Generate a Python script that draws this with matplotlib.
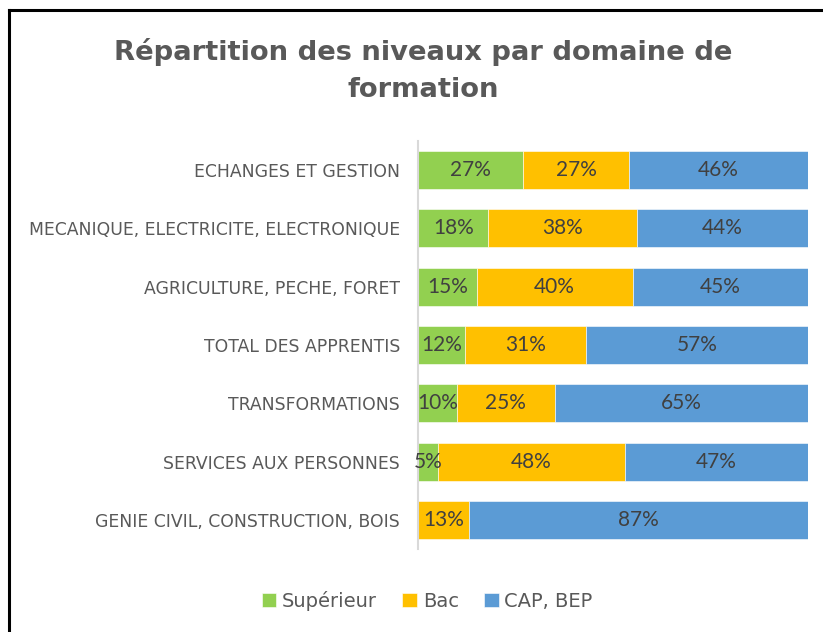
import matplotlib.pyplot as plt
from matplotlib.lines import Line2D

domaines = ['ECHANGES ET GESTION',
            'MECANIQUE, ELECTRICITE, ELECTRONIQUE',
            'AGRICULTURE, PECHE, FORET',
            'TOTAL DES APPRENTIS',
            'TRANSFORMATIONS',
            'SERVICES AUX PERSONNES',
            'GENIE CIVIL, CONSTRUCTION, BOIS']
superieur = [27, 18, 15, 12, 10, 5, 0]
bac = [27, 38, 40, 31, 25, 48, 13]
cap_bep = [46, 44, 45, 57, 65, 47, 87]

series = [('Supérieur', superieur, '#92D050'),
          ('Bac', bac, '#FFC000'),
          ('CAP, BEP', cap_bep, '#5B9BD5')]

fig = plt.figure(figsize=(8.23, 6.32), dpi=100)
ax = fig.add_axes([0.508, 0.131, 0.474, 0.646])

y = list(range(len(domaines)))
left = [0] * len(domaines)
for name, vals, col in series:
    ax.barh(y, vals, left=left, height=0.65, color=col, label=name,
            edgecolor='white', linewidth=0.4)
    for i, v in enumerate(vals):
        if v > 0:
            ax.text(left[i] + v / 2, i, f'{v}%', ha='center', va='center',
                    fontsize=15, color='#404040', family='Lato')
    left = [a + b for a, b in zip(left, vals)]

ax.set_xlim(0, 100)
ax.set_ylim(-0.5, len(domaines) - 0.5)
ax.invert_yaxis()
ax.set_yticks(y)
ax.set_yticklabels(domaines, fontsize=12.4, color='#595959')
ax.tick_params(axis='y', length=0, pad=13)
ax.set_xticks([])
for s in ['top', 'right', 'bottom']:
    ax.spines[s].set_visible(False)
ax.spines['left'].set_color('#D9D9D9')
ax.spines['left'].set_linewidth(1.5)

fig.text(0.514, 0.918, 'Répartition des niveaux par domaine de', ha='center',
         va='center', fontsize=19.7, fontweight='bold', color='#595959')
fig.text(0.514, 0.858, 'formation', ha='center', va='center',
         fontsize=19.7, fontweight='bold', color='#595959')

fig.legend(loc='center', bbox_to_anchor=(0.519, 0.049), ncol=3, frameon=False,
           fontsize=14, labelcolor='#595959', handlelength=0.75, handleheight=0.75,
           handletextpad=0.3, columnspacing=1.3)

# cadre noir (coin haut gauche)
fig.add_artist(Line2D([0.011, 0.011], [0, 0.984], color='black', lw=2.2,
                      transform=fig.transFigure))
fig.add_artist(Line2D([0.011, 1], [0.984, 0.984], color='black', lw=2.2,
                      transform=fig.transFigure))

fig.savefig('out.png', dpi=100)
